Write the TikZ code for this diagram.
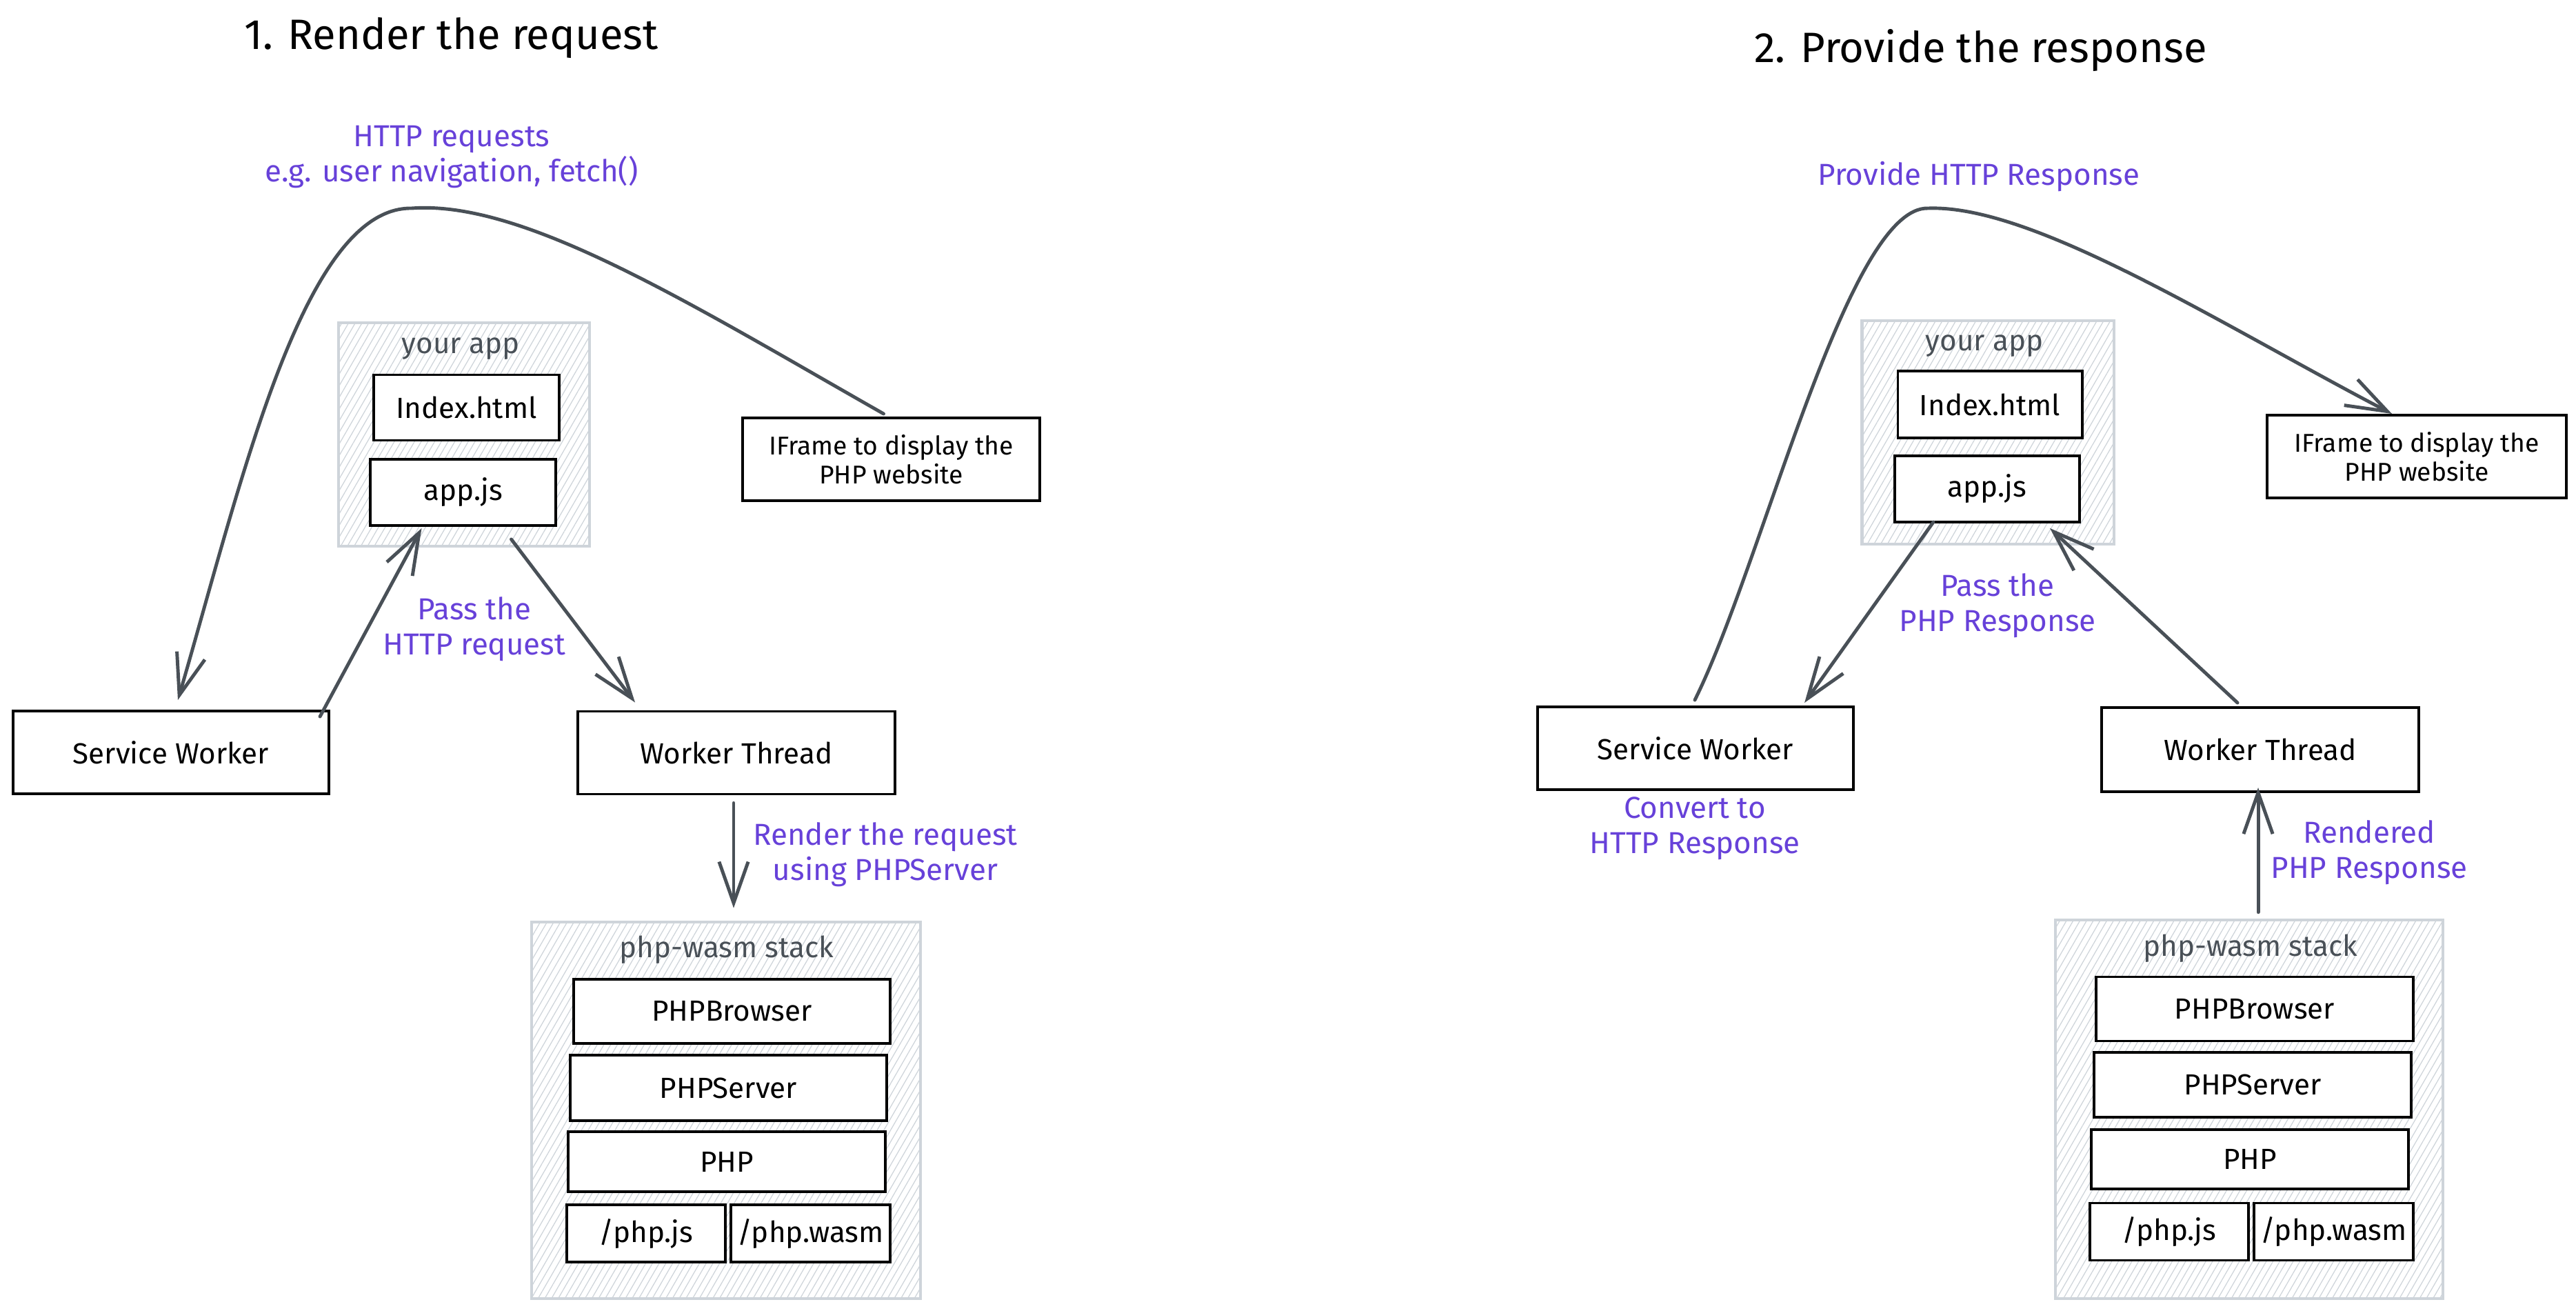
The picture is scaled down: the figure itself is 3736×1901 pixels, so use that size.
\documentclass[tikz,border=0pt]{standalone}
\usepackage{fontspec}
\setmainfont{Fira Sans}
\usetikzlibrary{arrows.meta,patterns.meta,calc}
\definecolor{noteviolet}{HTML}{6741D9}
\definecolor{arrowgray}{HTML}{495057}
\definecolor{hatchgray}{HTML}{CED4DA}

\begin{document}
\begin{tikzpicture}[x=0.01cm,y=-0.01cm,
    box/.style={draw=black,line width=1.1pt,fill=white,inner sep=0pt,font=\fontsize{12}{14}\selectfont},
    group/.style={draw=hatchgray,line width=1.2pt,inner sep=0pt,
      pattern={Lines[angle=60,distance=2.4pt,line width=.35pt]},pattern color=hatchgray},
    flow/.style={draw=arrowgray,line width=1.4pt,line cap=round,line join=round,
      -{Straight Barb[length=17pt,width=12pt,line width=1.4pt]}},
    note/.style={text=noteviolet,align=center,font=\fontsize{12.5}{14.5}\selectfont},
    grouplabel/.style={text=arrowgray,font=\fontsize{12}{14}\selectfont},
    heading/.style={anchor=base west,font=\fontsize{17.5}{20}\selectfont}]
  \fill[white] (0,0) rectangle (3736,1901);
  \useasboundingbox (0,0) rectangle (3736,1901);

  % 1. render the request
  \node[heading] (t1) at (342,72) {1. Render the request};
  \node[note] (n1) at (655,228) {HTTP requests\\e.g. user navigation, fetch()};
  \node[group,minimum width=3.64cm,minimum height=3.24cm] (grp1) at (673,630) {};
  \node[grouplabel] at (668,506) {your app};
  \node[box,minimum width=2.69cm,minimum height=.95cm] (idx1) at (676.5,591) {Index.html};
  \node[box,minimum width=2.68cm,minimum height=.96cm] (app1) at (671.5,714) {app.js};
  \node[box,minimum width=4.31cm,minimum height=1.20cm,align=center,
    font=\fontsize{10.6}{12}\selectfont] (ifr1) at (1292.5,666) {IFrame to display the\\PHP website};
  \node[box,minimum width=4.58cm,minimum height=1.20cm] (sw1) at (248,1091) {Service Worker};
  \node[box,minimum width=4.60cm,minimum height=1.20cm] (wt1) at (1068,1091.5) {Worker Thread};
  \node[group,minimum width=5.64cm,minimum height=5.46cm] (stack1) at (1053,1610) {};
  \node[grouplabel] at (1054,1377) {php-wasm stack};
  \node[box,minimum width=4.59cm,minimum height=.93cm] (brw1) at (1061.5,1466.5) {PHPBrowser};
  \node[box,minimum width=4.59cm,minimum height=.95cm] (srv1) at (1056.5,1577.5) {PHPServer};
  \node[box,minimum width=4.60cm,minimum height=.87cm] (php1) at (1054,1684.5) {PHP};
  \node[box,minimum width=2.30cm,minimum height=.83cm] (js1) at (937,1788.5) {/php.js};
  \node[box,minimum width=2.31cm,minimum height=.83cm] (wasm1) at (1175.5,1788.5) {/php.wasm};
  \node[note] at (688,912) {Pass the\\HTTP request};
  \node[note] at (1284,1239) {Render the request\\using PHPServer};

  \draw[flow] ($(ifr1.north)+(-11,-4)$) .. controls (1000,440) and (760,290) .. (597,302)
    .. controls (440,300) and (350,700) .. ($(sw1.north)+(10,-14)$);
  \draw[flow] ($(sw1.north east)+(-15,10)$) -- ($(app1.south)+(-60,2)$);
  \draw[flow] ($(app1.south)+(70,18)$) -- ($(wt1.north)+(-147,-11)$);
  \draw[flow] ($(wt1.south)+(-4,11)$) -- ($(stack1.north)+(11,-18)$);

  % 2. provide the response
  \node[heading] (t2) at (2532,91) {2. Provide the response};
  \node[note] (n2) at (2870,256) {Provide HTTP Response};
  \node[group,minimum width=3.65cm,minimum height=3.24cm] (grp2) at (2883,627) {};
  \node[grouplabel] at (2878,502) {your app};
  \node[box,minimum width=2.67cm,minimum height=.97cm] (idx2) at (2886,586.5) {Index.html};
  \node[box,minimum width=2.68cm,minimum height=.96cm] (app2) at (2882,709) {app.js};
  \node[box,minimum width=4.34cm,minimum height=1.20cm,align=center,
    font=\fontsize{10.6}{12}\selectfont] (ifr2) at (3505,662) {IFrame to display the\\PHP website};
  \node[box,minimum width=4.58cm,minimum height=1.20cm] (sw2) at (2459,1085) {Service Worker};
  \node[box,minimum width=4.59cm,minimum height=1.22cm] (wt2) at (3278,1087) {Worker Thread};
  \node[group,minimum width=5.61cm,minimum height=5.49cm] (stack2) at (3262,1608.5) {};
  \node[grouplabel] at (3264,1375) {php-wasm stack};
  \node[box,minimum width=4.59cm,minimum height=.93cm] (brw2) at (3270,1463) {PHPBrowser};
  \node[box,minimum width=4.59cm,minimum height=.94cm] (srv2) at (3267,1573) {PHPServer};
  \node[box,minimum width=4.60cm,minimum height=.86cm] (php2) at (3263,1681) {PHP};
  \node[box,minimum width=2.30cm,minimum height=.83cm] (js2) at (3146,1786) {/php.js};
  \node[box,minimum width=2.31cm,minimum height=.83cm] (wasm2) at (3384.5,1786) {/php.wasm};
  \node[note] at (2897,878) {Pass the\\PHP Response};
  \node[note] at (2458,1201) {Convert to\\HTTP Response};
  \node[note] at (3436,1236) {Rendered\\PHP Response};

  \draw[flow] ($(sw2.north)+(-1,-8)$) .. controls (2557,816) and (2680,297) .. (2797,302)
    .. controls (2950,297) and (3220,470) .. ($(ifr2.north)+(-36,0)$);
  \draw[flow] ($(app2.south)+(-78,-2)$) -- ($(sw2.north east)+(-73,-4)$);
  \draw[flow] ($(wt2.north)+(-33,-5)$) -- ($(app2.south)+(91,7)$);
  \draw[flow] ($(stack2.north)+(13,-9)$) -- ($(wt2.south)+(-3,-8)$);
\end{tikzpicture}
\end{document}
